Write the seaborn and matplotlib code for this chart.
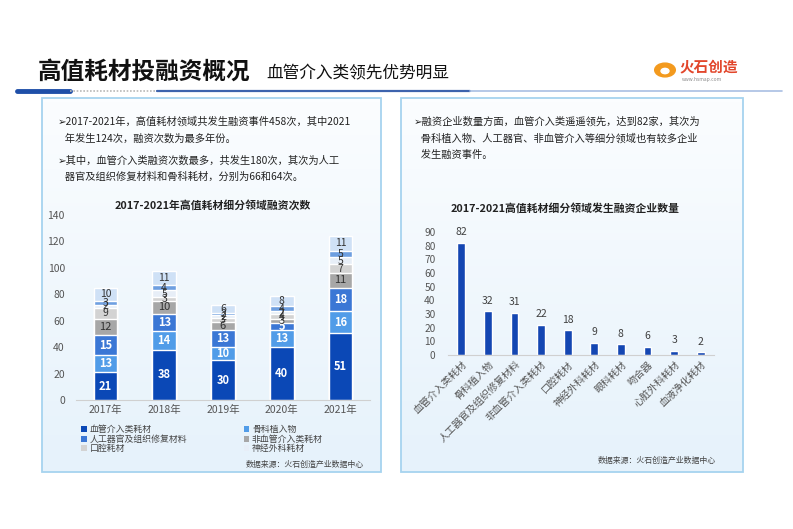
import numpy as np
import pandas as pd
import matplotlib
matplotlib.use('Agg')
import matplotlib.pyplot as plt
from matplotlib.patches import Rectangle, Patch
from matplotlib.colors import LinearSegmentedColormap
import seaborn as sns

sns.set_style('white')
plt.rcParams['font.family'] = ['Noto Sans CJK SC', 'DejaVu Sans']

# left chart: financing events per year, stacked by segment
years = ['2017年', '2018年', '2019年', '2020年', '2021年']
seg_names = ['血管介入类耗材', '骨科植入物', '人工器官及组织修复材料', '非血管介入类耗材',
             '口腔耗材', '神经外科耗材', '眼科耗材', '其他']
seg_values = [
    [21, 38, 30, 40, 51],
    [13, 14, 10, 13, 16],
    [15, 13, 13, 5, 18],
    [12, 10, 6, 3, 11],
    [9, 3, 3, 4, 7],
    [2, 5, 2, 2, 5],
    [3, 4, 2, 4, 5],
    [10, 11, 6, 8, 11],
]
seg_colors = ['#0b48b6', '#519ce8', '#3b77d5', '#a7a7a7', '#d3d3d3', '#e7eef7', '#6e9fe0', '#cfe1f6']
seg_text = ['white', 'white', 'white', '#333333', '#333333', '#333333', '#333333', '#333333']

# right chart: number of financed companies
categories = ['血管介入类耗材', '骨科植入物', '人工器官及组织修复材料', '非血管介入类耗材', '口腔耗材',
              '神经外科耗材', '眼科耗材', '吻合器', '心脏外科耗材', '血液净化耗材']
companies = [82, 32, 31, 22, 18, 9, 8, 6, 3, 2]

W, H = 793, 529
def fx(px):
    return px / W
def fy(py):
    return 1 - py / H

fig = plt.figure(figsize=(W / 100, H / 100), dpi=100)
fig.patch.set_facecolor('white')

# header
fig.text(fx(38), fy(72), '高值耗材投融资概况', fontsize=17, fontweight='bold', color='#111111', va='center')
fig.text(fx(266), fy(74), '血管介入类领先优势明显', fontsize=12, color='#111111', va='center')
fig.add_artist(plt.Line2D([fx(17), fx(70)], [fy(91), fy(91)], color='#1f4fa8', lw=3.5))
fig.add_artist(plt.Line2D([fx(70), fx(157)], [fy(91), fy(91)], color='#b8b8b8', lw=1.2, ls=(0, (1, 1))))
fig.add_artist(plt.Line2D([fx(157), fx(470)], [fy(91), fy(91)], color='#3d63ad', lw=1.6))
fig.add_artist(plt.Line2D([fx(470), fx(782)], [fy(91), fy(91)], color='#a9bfe3', lw=1.2))

# logo
fig.add_artist(plt.Circle((fx(665), fy(70)), 0.013, transform=fig.transFigure, color='#f39a1e'))
fig.add_artist(plt.Circle((fx(665), fy(71)), 0.005, transform=fig.transFigure, color='white'))
fig.text(fx(680), fy(66), '火石创造', fontsize=10.5, fontweight='bold', color='#e2462b', va='center')
fig.text(fx(682), fy(79), 'www.hsmap.com', fontsize=3.5, color='#888888', va='center')

# panels with soft gradient
grad_cmap = LinearSegmentedColormap.from_list('panel', ['#fbfdff', '#e6f2fb'])
for x0, x1 in [(42, 381), (401, 743)]:
    bg = fig.add_axes([fx(x0), fy(472), fx(x1 - x0), (472 - 98) / H], zorder=0)
    bg.imshow(np.linspace(0, 1, 100).reshape(-1, 1), aspect='auto', cmap=grad_cmap,
              extent=[0, 1, 0, 1], origin='upper')
    bg.set_axis_off()
    fig.add_artist(Rectangle((fx(x0), fy(472)), fx(x1 - x0), (472 - 98) / H,
                             transform=fig.transFigure, fill=False, edgecolor='#a6d3ef', lw=1.3, zorder=3))

txt_kw = dict(fontsize=7.4, color='#222222', va='center', linespacing=1.75)
fig.text(fx(58), fy(130), '➢2017-2021年，高值耗材领域共发生融资事件458次，其中2021\n   年发生124次，融资次数为最多年份。', **txt_kw)
fig.text(fx(58), fy(169), '➢其中，血管介入类融资次数最多，共发生180次，其次为人工\n   器官及组织修复材料和骨科耗材，分别为66和64次。', **txt_kw)
fig.text(fx(414), fy(138), '➢融资企业数量方面，血管介入类遥遥领先，达到82家，其次为\n   骨科植入物、人工器官、非血管介入等细分领域也有较多企业\n   发生融资事件。', **txt_kw)

# left stacked chart
ax1 = fig.add_axes([fx(76), fy(400), fx(294), (400 - 215) / H], zorder=1)
ax1.set_facecolor('none')
cum = np.cumsum(np.array(seg_values), axis=0)
for k in range(len(seg_names) - 1, -1, -1):
    df = pd.DataFrame({'year': years, 'total': cum[k]})
    sns.barplot(data=df, x='year', y='total', color=seg_colors[k], width=0.4,
                saturation=1, ax=ax1)
for k in range(len(seg_names)):
    for i in range(len(years)):
        v = seg_values[k][i]
        ax1.text(i, cum[k][i] - v / 2, str(v), ha='center', va='center',
                 fontsize=8 if k < 4 else 7.5, color=seg_text[k],
                 fontweight='bold' if k < 3 else 'normal')
ax1.set_ylim(0, 140)
ax1.set_yticks(range(0, 141, 20))
ax1.set_xlabel('')
ax1.set_ylabel('')
ax1.tick_params(axis='both', labelsize=7.5, colors='#555555', length=0)
ax1.tick_params(axis='y', pad=8)
sns.despine(ax=ax1, left=True)
ax1.spines['bottom'].set_color('#d0d0d0')
fig.text(fx(213), fy(205), '2017-2021年高值耗材细分领域融资次数', fontsize=7.8,
         fontweight='bold', color='#222222', ha='center', va='center')

order = [0, 2, 4, 1, 3, 5]
handles = [Patch(facecolor=seg_colors[k], edgecolor='none') for k in order]
labels = [seg_names[k] for k in order]
fig.legend(handles, labels, ncol=2, loc='upper left', bbox_to_anchor=(fx(77), fy(421)),
           frameon=False, fontsize=6.4, handlelength=0.6, handleheight=0.6, handletextpad=0.3,
           columnspacing=6.4, labelspacing=0.05, borderpad=0, labelcolor='#444444')
fig.text(fx(246), fy(464), '数据来源：火石创造产业数据中心', fontsize=5.7, color='#444444', va='center')

# right bar chart
ax2 = fig.add_axes([fx(448), fy(355), fx(266), (355 - 232) / H], zorder=1)
ax2.set_facecolor('none')
df2 = pd.DataFrame({'cat': categories, 'n': companies})
sns.barplot(data=df2, x='cat', y='n', color='#1446b2', width=0.3, saturation=1, ax=ax2)
ax2.bar_label(ax2.containers[0], padding=4, fontsize=7.5, color='#404040')
ax2.set_ylim(0, 90)
ax2.set_yticks(range(0, 91, 10))
ax2.set_xlabel('')
ax2.set_ylabel('')
ax2.tick_params(axis='both', labelsize=7.3, colors='#555555', length=0)
ax2.tick_params(axis='y', pad=9)
ax2.tick_params(axis='x', pad=3)
plt.setp(ax2.get_xticklabels(), rotation=45, ha='right', rotation_mode='anchor', fontsize=7.2)
sns.despine(ax=ax2, left=True)
ax2.spines['bottom'].set_color('#d0d0d0')
ax2.set_xlim(-0.5, 9.5)
fig.text(fx(565), fy(208), '2017-2021高值耗材细分领域发生融资企业数量', fontsize=7.8,
         fontweight='bold', color='#222222', ha='center', va='center')
fig.text(fx(598), fy(460), '数据来源：火石创造产业数据中心', fontsize=5.7, color='#444444', va='center')

fig.savefig('out.png', dpi=100)
